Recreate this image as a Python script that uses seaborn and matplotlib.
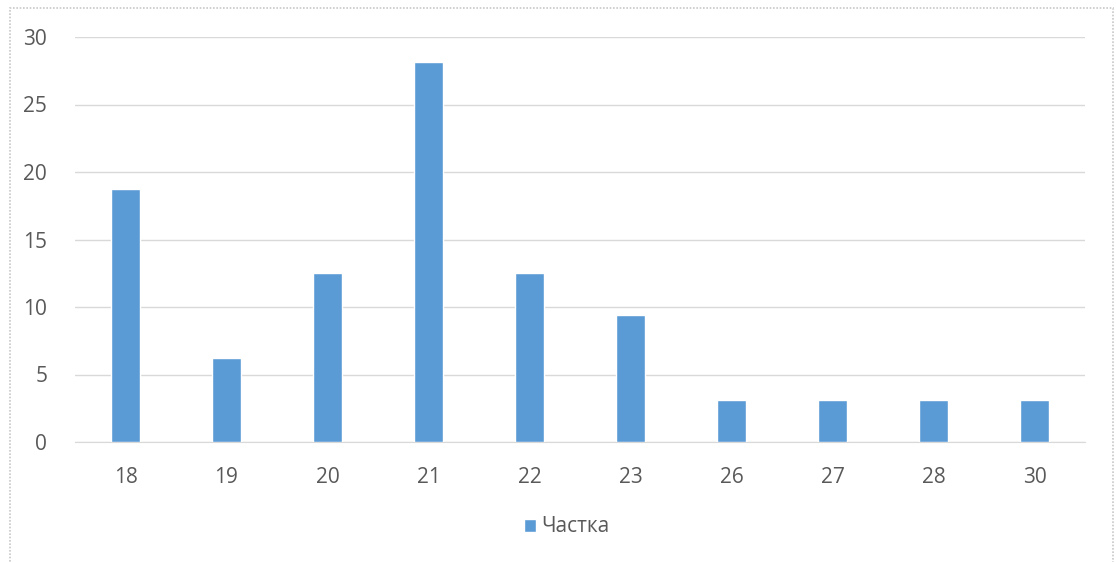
import pandas as pd
import seaborn as sns
import matplotlib.pyplot as plt
from matplotlib.patches import Rectangle, Patch

# data
ages = ['18', '19', '20', '21', '22', '23', '26', '27', '28', '30']
share = [18.75, 6.25, 12.5, 28.125, 12.5, 9.375, 3.125, 3.125, 3.125, 3.125]
series_name = 'Частка'

df = pd.DataFrame({'age': ages, 'share': share})

sns.set_style('white')
plt.rcParams['font.family'] = ['Open Sans', 'DejaVu Sans']

W, H = 1116, 562
fig = plt.figure(figsize=(W / 100, H / 100), dpi=100)
ax = fig.add_axes([75 / W, 1 - 442 / H, (1085 - 75) / W, (442 - 37) / H])

sns.barplot(data=df, x='age', y='share', color='#5B9BD5', width=0.29,
            saturation=1, ax=ax, zorder=3)

ax.set_ylim(0, 30)
ax.set_yticks(range(0, 31, 5))
ax.yaxis.grid(True, color='#D9D9D9', lw=1, zorder=0)
ax.set_xlabel('')
ax.set_ylabel('')
for s in ['top', 'right', 'left']:
    ax.spines[s].set_visible(False)
ax.spines['bottom'].set_color('#D9D9D9')
ax.tick_params(axis='both', length=0, labelsize=15, colors='#595959')
ax.tick_params(axis='y', pad=20)
ax.tick_params(axis='x', pad=18)

handle = Patch(facecolor='#5B9BD5', label=series_name)
fig.legend(handles=[handle], loc='center', bbox_to_anchor=(0.508, 1 - 527 / H),
           frameon=False, fontsize=15, handlelength=0.6, handleheight=0.6,
           handletextpad=0.25, labelcolor='#595959')

# outer chart frame
fig.patches.append(Rectangle((10 / W, -0.05), (1113 - 10) / W, 1.05 - 8 / H,
                             transform=fig.transFigure, fill=False,
                             edgecolor='#C8C8C8', lw=1.2, ls=(0, (1, 1))))

fig.savefig('out.png', dpi=100)
